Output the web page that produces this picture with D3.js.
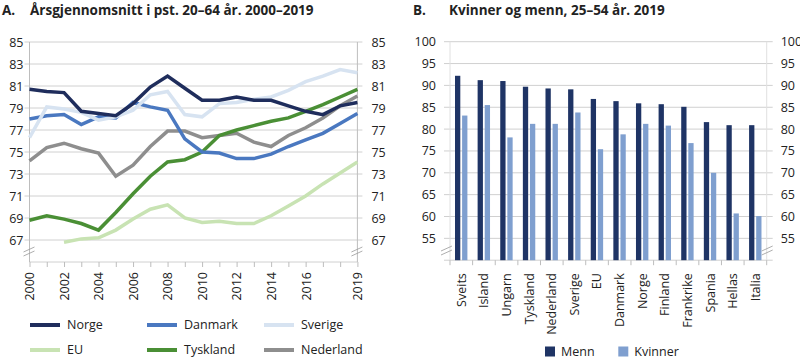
<!DOCTYPE html>
<html><head><meta charset="utf-8">
<script src="https://cdn.jsdelivr.net/npm/d3@7"></script>
<style>
body{margin:0;background:#fff;}
svg text{font-family:"Open Sans",sans-serif;fill:#222;}
</style></head>
<body><svg id="c" width="800" height="359"></svg>
<script>
// ---------- Data: panel A ----------
const years = d3.range(2000, 2020);
const norge     = [80.7,80.5,80.4,78.7,78.5,78.3,79.4,80.9,81.9,80.8,79.7,79.7,80.0,79.7,79.7,79.2,78.7,78.4,79.2,79.5];
const danmark   = [78.0,78.3,78.4,77.5,78.2,78.1,79.5,79.1,78.8,76.2,75.0,74.9,74.4,74.4,74.8,75.5,76.1,76.7,77.6,78.5];
const sverige   = [76.3,79.1,78.9,78.6,77.9,78.2,78.8,80.2,80.5,78.4,78.2,79.4,79.5,79.8,80.0,80.6,81.4,81.9,82.5,82.2];
const eu        = [null,null,66.8,67.1,67.2,67.9,68.9,69.8,70.2,69.0,68.6,68.7,68.5,68.5,69.2,70.1,71.0,72.1,73.1,74.1];
const tyskland  = [68.8,69.2,68.9,68.5,67.9,69.5,71.2,72.8,74.1,74.3,75.0,76.5,77.0,77.4,77.8,78.1,78.7,79.3,80.0,80.7];
const nederland = [74.2,75.4,75.8,75.3,74.9,72.8,73.8,75.5,76.9,76.9,76.3,76.5,76.7,75.9,75.5,76.5,77.2,78.1,79.2,80.1];
const seriesNames = ["Norge","Danmark","Sverige","EU","Tyskland","Nederland"];
const seriesValues = [norge, danmark, sverige, eu, tyskland, nederland];
const seriesColors = ["#1f2d5c","#4a78c0","#d7e3f1","#c8e3b3","#4a8f35","#8e8e8e"];
const yTicksA = [67,69,71,73,75,77,79,81,83,85];
const xLabelYears = [2000,2002,2004,2006,2008,2010,2012,2014,2016,2019];

// ---------- Data: panel B ----------
const countries = ["Sveits","Island","Ungarn","Tyskland","Nederland","Sverige","EU","Danmark","Norge","Finland","Frankrike","Spania","Hellas","Italia"];
const menn    = [92.2,91.2,91.0,89.7,89.3,89.1,86.9,86.4,85.9,85.7,85.1,81.6,80.9,80.9];
const kvinner = [83.1,85.5,78.1,81.2,81.2,83.8,75.4,78.8,81.2,80.8,76.8,70.0,60.7,60.1];
const barNames = ["Menn","Kvinner"];
const barColors = ["#1f3465","#7f9fcf"];
const yTicksB = [55,60,65,70,75,80,85,90,95,100];

const svg = d3.select("#c");
const gridCol = "#d0d0d0", axisCol = "#bdbdbd";

// ---------- Titles ----------
function title(x1, x2, lab, txt){
  svg.append("text").attr("x",x1).attr("y",15).attr("font-weight","bold").attr("font-size",13.5).text(lab);
  svg.append("text").attr("x",x2).attr("y",15).attr("font-weight","bold").attr("font-size",13.5).text(txt);
}
title(2,30,"A.","Årsgjennomsnitt i pst. 20–64 år.  2000–2019");
title(413,449,"B.","Kvinner og menn, 25–54 år. 2019");

function breakMark(g, x, y){
  g.append("path").attr("d",`M${x-6},${y-1}L${x+5},${y-6}M${x-6},${y+3}L${x+5},${y-2}`)
    .attr("stroke","#999").attr("stroke-width",0.8).attr("fill","none");
}

// ---------- Panel A ----------
{
  const L=29.5, R=357.4, T=42, B=262;
  const x = d3.scaleLinear().domain([2000,2019]).range([L,R]);
  const y = d3.scaleLinear().domain([65,85]).range([B,T]);
  const g = svg.append("g");
  g.selectAll(".g").data(yTicksA).join("line")
    .attr("x1",L-5).attr("x2",R+5).attr("y1",d=>y(d)).attr("y2",d=>y(d))
    .attr("stroke",gridCol).attr("stroke-width",1);
  g.append("line").attr("x1",L).attr("x2",R).attr("y1",B).attr("y2",B).attr("stroke",gridCol);
  g.append("line").attr("x1",L).attr("x2",L).attr("y1",T).attr("y2",B).attr("stroke",axisCol);
  g.append("line").attr("x1",R).attr("x2",R).attr("y1",T).attr("y2",B).attr("stroke",axisCol);
  const yl = d3.axisLeft(y).tickValues(yTicksA).tickSize(0).tickPadding(0);
  const ga = g.append("g").attr("transform",`translate(${L-6},0)`).call(yl);
  ga.select(".domain").remove();
  ga.selectAll("text").attr("font-size",12.5).attr("fill","#222").style("font-family","Open Sans");
  const yr = d3.axisRight(y).tickValues(yTicksA).tickSize(0).tickPadding(0);
  const gb = g.append("g").attr("transform",`translate(${R+14},0)`).call(yr);
  gb.select(".domain").remove();
  gb.selectAll("text").attr("font-size",12.5).attr("fill","#222").style("font-family","Open Sans");
  breakMark(g, L, 253); breakMark(g, R, 253);
  const xa = d3.axisBottom(x).tickValues(years).tickSize(5).tickFormat(d=>xLabelYears.includes(d)?d:"");
  const gx = g.append("g").attr("transform",`translate(0,${B})`).call(xa);
  gx.select(".domain").remove();
  gx.selectAll("line").attr("stroke",axisCol);
  gx.selectAll("text").attr("font-size",12.5).attr("fill","#222").style("font-family","Open Sans")
    .attr("transform","rotate(-90)").attr("text-anchor","end").attr("x",-10).attr("y",0).attr("dy","0.35em");
  const line = d3.line().defined(d=>d!=null).x((d,i)=>x(years[i])).y(d=>y(d));
  const order = [3,5,4,1,2,0];
  order.forEach(i=>{
    g.append("path").datum(seriesValues[i]).attr("d",line)
      .attr("fill","none").attr("stroke",seriesColors[i]).attr("stroke-width",3.5).attr("stroke-linejoin","miter");
  });
  const lx = [30,147,264], ly = [325,350];
  seriesNames.forEach((n,i)=>{
    const cx = lx[i%3], cy = ly[Math.floor(i/3)];
    g.append("line").attr("x1",cx).attr("x2",cx+30).attr("y1",cy).attr("y2",cy)
      .attr("stroke",seriesColors[i]).attr("stroke-width",4);
    g.append("text").attr("x",cx+37).attr("y",cy).attr("dy","0.35em").attr("font-size",12.5).text(n);
  });
}

// ---------- Panel B ----------
{
  const L=450, R=766.7, T=41.7, B=260.2;
  const x = d3.scaleBand().domain(countries).range([L,R]);
  const y = d3.scaleLinear().domain([50,100]).range([B,T]);
  const g = svg.append("g");
  g.selectAll(".g").data(yTicksB).join("line")
    .attr("x1",L-6).attr("x2",R+6).attr("y1",d=>y(d)).attr("y2",d=>y(d))
    .attr("stroke",gridCol);
  g.append("line").attr("x1",L-6).attr("x2",R+6).attr("y1",B).attr("y2",B).attr("stroke",gridCol);
  g.append("line").attr("x1",L).attr("x2",L).attr("y1",T).attr("y2",B).attr("stroke","#e0e0e0");
  g.append("line").attr("x1",R).attr("x2",R).attr("y1",T).attr("y2",B).attr("stroke","#e0e0e0");
  const yl = d3.axisLeft(y).tickValues(yTicksB).tickSize(0).tickPadding(0);
  const ga = g.append("g").attr("transform",`translate(${L-14},0)`).call(yl);
  ga.select(".domain").remove();
  ga.selectAll("text").attr("font-size",12.5).attr("fill","#222").style("font-family","Open Sans");
  const yr = d3.axisRight(y).tickValues(yTicksB).tickSize(0).tickPadding(0);
  const gb = g.append("g").attr("transform",`translate(${R+14},0)`).call(yr);
  gb.select(".domain").remove();
  gb.selectAll("text").attr("font-size",12.5).attr("fill","#222").style("font-family","Open Sans");
  breakMark(g, L-3, 252); breakMark(g, R+1, 252);
  const bounds = countries.map(c=>x(c)).concat([R]);
  g.selectAll(".t").data(bounds).join("line")
    .attr("x1",d=>d).attr("x2",d=>d).attr("y1",B).attr("y2",B+5).attr("stroke",axisCol);
  const bw = 5.3;
  const vals = [menn,kvinner];
  vals.forEach((arr,k)=>{
    g.selectAll(".b"+k).data(countries).join("rect")
      .attr("x",(d,i)=>x(d)+5+k*(bw+1.8)).attr("width",bw)
      .attr("y",(d,i)=>y(arr[i])).attr("height",(d,i)=>B-y(arr[i]))
      .attr("fill",barColors[k]);
  });
  g.selectAll(".xl").data(countries).join("text")
    .attr("transform",d=>`translate(${x(d)+x.bandwidth()/2},${B+13}) rotate(-90)`)
    .attr("text-anchor","end").attr("dy","0.35em").attr("font-size",12.5).text(d=>d);
  const lgx = [545,618.3];
  barNames.forEach((n,k)=>{
    g.append("rect").attr("x",lgx[k]).attr("y",346.5).attr("width",10).attr("height",10).attr("fill",barColors[k]);
    g.append("text").attr("x",lgx[k]+16).attr("y",351.5).attr("dy","0.35em").attr("font-size",12.5).text(n);
  });
}
</script></body></html>
